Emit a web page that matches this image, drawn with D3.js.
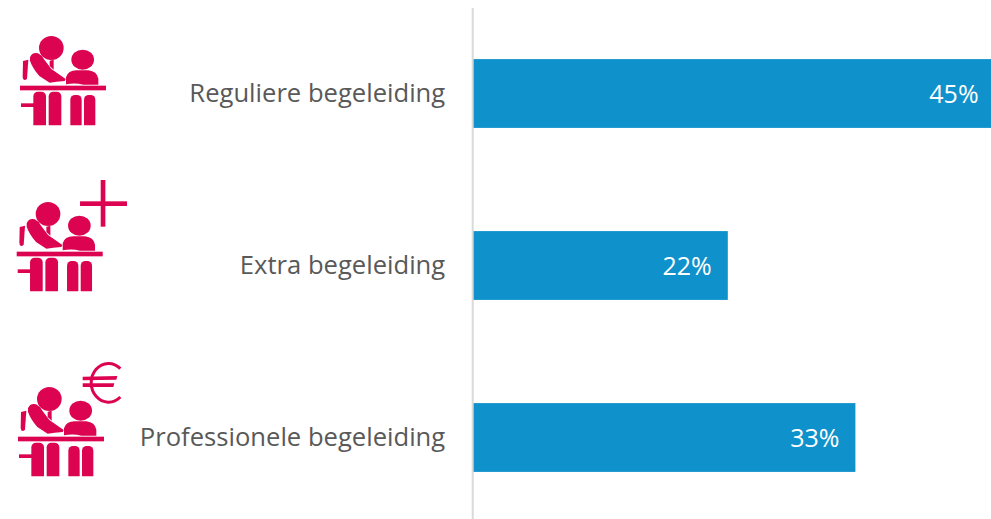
<!DOCTYPE html>
<html>
<head>
<meta charset="utf-8">
<script src="https://cdn.jsdelivr.net/npm/d3@7"></script>
<style>
  html, body { margin: 0; background: #fff; overflow: hidden; }
  svg { display: block; }
  text { font-family: "Open Sans", sans-serif; }
</style>
</head>
<body>
<div id="chart"></div>
<script>
// chart values
const categories = ['Reguliere begeleiding', 'Extra begeleiding', 'Professionele begeleiding'];
const values = [45, 22, 33];
const iconExtras = ['', 'plus', 'euro'];

// layout
const width = 991, height = 519;
const margin = {t: 7.5, l: 472.6};
const pxPerPercent = 11.6;
const pink = '#dc0451';

const svg = d3.select('#chart').append('svg')
    .attr('width', width)
    .attr('height', height);

// setting up scales
const scaleX = d3.scaleLinear()
    .domain([0, 45])
    .range([margin.l, margin.l + 45 * pxPerPercent]);
const scaleY = d3.scaleBand()
    .domain(categories)
    .range([margin.t, margin.t + 516])
    .paddingInner(0.6)
    .paddingOuter(0.3);

// bars
svg.selectAll('.bar')
    .data(values)
    .enter()
    .append('rect')
    .attr('class', 'bar')
    .attr('x', scaleX(0))
    .attr('y', (d, i) => scaleY(categories[i]))
    .attr('width', d => scaleX(d) - scaleX(0))
    .attr('height', scaleY.bandwidth())
    .style('fill', '#0f91cb');

// value labels
svg.selectAll('.value')
    .data(values)
    .enter()
    .append('text')
    .attr('class', 'value')
    .attr('x', d => scaleX(d) - 16)
    .attr('y', (d, i) => scaleY(categories[i]) + scaleY.bandwidth() / 2 + 1)
    .attr('dy', '0.35em')
    .attr('text-anchor', 'end')
    .style('font-size', '25px')
    .style('fill', '#fff')
    .text(d => d + '%');

// y axis
const axisY = d3.axisLeft(scaleY).tickSize(0).tickPadding(27);
const axisNode = svg.append('g')
    .attr('class', 'axis axis-y')
    .attr('transform', `translate(${margin.l - 0.4},0)`)
    .call(axisY);
axisNode.select('.domain')
    .style('stroke', '#d9d9d9')
    .style('stroke-width', 2);
axisNode.selectAll('text')
    .attr('dy', '0.35em')
    .style('font-size', '25.6px')
    .style('font-family', '"Open Sans", sans-serif')
    .style('fill', '#595959');

// icons, drawn in a 3x grid so the shapes stay readable
const iconOffsets = [[0, 20], [-3.3, 186], [-2, 371]];
const icons = svg.selectAll('.icon')
    .data(iconExtras)
    .enter()
    .append('g')
    .attr('class', 'icon')
    .attr('transform', (d, i) => `translate(${iconOffsets[i][0]},${iconOffsets[i][1]}) scale(${1 / 3})`)
    .style('fill', pink);

icons.append('ellipse').attr('cx', 154).attr('cy', 84).attr('rx', 37).attr('ry', 36);
icons.append('ellipse').attr('cx', 248).attr('cy', 119).attr('rx', 34).attr('ry', 30);
icons.append('path').attr('d', 'M69,123 L85,119 L81,176 Q70,186 68,170 Z');
icons.append('path').attr('d', 'M149,122 L161,119 L161,149 L149,138 Z');
icons.append('path').attr('d', 'M90,112 Q96,96 114,100 Q127,106 132,118 L154,147 L197,177 L194,183 L170,185 L149,188 L118,168 Q96,142 90,122 Z');
icons.append('path').attr('d', 'M198,193 L198,172 Q204,151 230,151 L265,151 Q291,154 295,176 L295,194 L250,194 Q225,187 198,193 Z');
icons.append('rect').attr('x', 60).attr('y', 197).attr('width', 258).attr('height', 14);
icons.append('rect').attr('x', 63).attr('y', 250).attr('width', 40).attr('height', 11);

const legs = [[100, 215, 38], [146, 215, 38], [211, 225, 34], [252, 225, 34]];
legs.forEach(leg => {
    icons.append('rect')
        .attr('x', leg[0]).attr('y', leg[1])
        .attr('width', leg[2]).attr('height', 316 - leg[1] + 12)
        .attr('rx', 14)
        .attr('clip-path', 'url(#leg-clip)');
});
svg.append('defs').append('clipPath').attr('id', 'leg-clip')
    .append('rect').attr('x', 0).attr('y', 0).attr('width', 400).attr('height', 316);

// plus sign
const plus = icons.filter(d => d === 'plus');
plus.append('rect').attr('x', 312).attr('y', -18).attr('width', 14).attr('height', 140);
plus.append('rect').attr('x', 250).attr('y', 46).attr('width', 141).attr('height', 14);

// euro sign
const euro = icons.filter(d => d === 'euro');
euro.append('path')
    .attr('d', 'M367,-7 A52,58 0 1 0 367,78')
    .style('fill', 'none')
    .style('stroke', pink)
    .style('stroke-width', 9);
euro.append('path').attr('d', 'M254,17 L358,15 L355,26 L254,28 Z');
euro.append('path').attr('d', 'M254,37 L349,37 L346,48 L254,48 Z');
</script>
</body>
</html>
